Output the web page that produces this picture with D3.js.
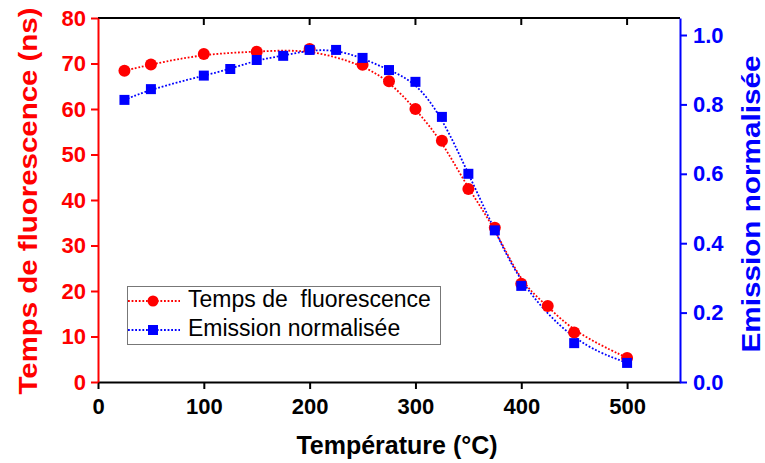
<!DOCTYPE html>
<html><head><meta charset="utf-8">
<script src="https://cdn.jsdelivr.net/npm/d3@7"></script>
<style>body{margin:0;background:#fff}svg{display:block}text{font-family:"Liberation Sans",Arial,sans-serif}</style>
</head><body>
<svg id="c" width="765" height="463"></svg>
<script>
const tempLife = [25,50,100,150,200,250,275,300,325,350,375,400,425,450,500];
const lifetime = [68.4,69.8,72.1,72.6,73.2,69.7,66.1,60.0,53.0,42.4,33.9,21.6,16.7,10.9,5.3];
const tempEm = [25,50,100,125,150,175,200,225,250,275,300,325,350,375,400,450,500];
const emission = [0.813,0.844,0.883,0.902,0.928,0.940,0.957,0.957,0.934,0.899,0.865,0.764,0.600,0.437,0.277,0.112,0.055];
const xTicks = [0,100,200,300,400,500];
const yLeftTicks = [0,10,20,30,40,50,60,70,80];
const yRightTicks = [0,0.2,0.4,0.6,0.8,1.0];
const legendLabels = ["Temps de  fluorescence","Emission normalisée"];

const svg = d3.select("#c");
const L=98,R=680,T=18,B=382;
const x = d3.scaleLinear().domain([0,550]).range([L,R]);
const yL = d3.scaleLinear().domain([0,80]).range([B,T]);
const yR = d3.scaleLinear().domain([0,1.049]).range([B,T]);
const RED="#ff0000", BLUE="#0000ff";

// top axis line with inward ticks
svg.append("line").attr("x1",L).attr("x2",R).attr("y1",T).attr("y2",T).attr("stroke","#000").attr("stroke-width",2);
svg.selectAll(".tt").data(xTicks.slice(1)).enter().append("line")
  .attr("x1",d=>x(d)).attr("x2",d=>x(d)).attr("y1",T).attr("y2",T+7).attr("stroke","#000").attr("stroke-width",2);

// bottom axis
const gx = svg.append("g").attr("transform",`translate(0,${B})`)
  .call(d3.axisBottom(x).tickValues(xTicks).tickSize(7).tickPadding(9).tickSizeOuter(0));
gx.select(".domain").attr("stroke","#000").attr("stroke-width",2);
gx.selectAll(".tick line").attr("stroke","#000").attr("stroke-width",2);
gx.selectAll("text").attr("fill","#000").style("font-size","22px").style("font-weight","bold");

// left axis
const gl = svg.append("g").attr("transform",`translate(${L},0)`)
  .call(d3.axisLeft(yL).tickValues(yLeftTicks).tickSize(7).tickPadding(5).tickSizeOuter(0));
gl.select(".domain").attr("stroke",RED).attr("stroke-width",2);
gl.selectAll(".tick line").attr("stroke",RED).attr("stroke-width",2);
gl.selectAll("text").attr("fill",RED).style("font-size","22px").style("font-weight","bold");

// right axis
const gr = svg.append("g").attr("transform",`translate(${R},0)`)
  .call(d3.axisRight(yR).tickValues(yRightTicks).tickFormat(d3.format(".1f")).tickSize(7).tickPadding(6).tickSizeOuter(0));
gr.select(".domain").attr("stroke",BLUE).attr("stroke-width",2);
gr.selectAll(".tick line").attr("stroke",BLUE).attr("stroke-width",2);
gr.selectAll("text").attr("fill",BLUE).style("font-size","22px").style("font-weight","bold");

// fit curves
const lineRed = d3.line().x((d,i)=>x(tempLife[i])).y(d=>yL(d)).curve(d3.curveBasis);
const lineBlue = d3.line().x((d,i)=>x(tempEm[i])).y(d=>yR(d)).curve(d3.curveBasis);
svg.append("path").attr("d",lineRed(lifetime)).attr("fill","none").attr("stroke",RED).attr("stroke-width",1.8).attr("stroke-dasharray","1.8,1.8");
svg.append("path").attr("d",lineBlue(emission)).attr("fill","none").attr("stroke",BLUE).attr("stroke-width",1.8).attr("stroke-dasharray","1.8,1.8");

// markers
svg.selectAll(".rc").data(lifetime).enter().append("circle")
  .attr("cx",(d,i)=>x(tempLife[i])).attr("cy",d=>yL(d)).attr("r",6).attr("fill",RED);
svg.selectAll(".bs").data(emission).enter().append("rect")
  .attr("x",(d,i)=>x(tempEm[i])-5).attr("y",d=>yR(d)-5).attr("width",10).attr("height",10).attr("fill",BLUE);

// legend
svg.append("rect").attr("x",127.5).attr("y",286.5).attr("width",313).attr("height",58).attr("fill","#fff").attr("stroke","#777").attr("stroke-width",1);
const lg = [{c:RED,y:301,ty:307},{c:BLUE,y:330,ty:336}];
lg.forEach((e,i)=>{
  svg.append("line").attr("x1",128).attr("x2",180).attr("y1",e.y).attr("y2",e.y).attr("stroke",e.c).attr("stroke-width",1.8).attr("stroke-dasharray","1.8,1.8");
  if(i===0) svg.append("circle").attr("cx",153).attr("cy",e.y).attr("r",5.5).attr("fill",RED);
  else svg.append("rect").attr("x",148).attr("y",e.y-5).attr("width",10).attr("height",10).attr("fill",BLUE);
  svg.append("text").attr("x",188).attr("y",e.ty).attr("fill","#000").style("font-size","23px").style("white-space","pre").attr("xml:space","preserve").text(legendLabels[i]);
});

// axis titles
svg.append("text").attr("x",397).attr("y",454).attr("text-anchor","middle").attr("fill","#000")
  .style("font-size","25px").style("font-weight","bold").text("Température (°C)");
svg.append("text").attr("transform","translate(37,201) rotate(-90)").attr("text-anchor","middle").attr("fill",RED)
  .attr("textLength",387).attr("lengthAdjust","spacingAndGlyphs")
  .style("font-size","26px").style("font-weight","bold").text("Temps de fluorescence (ns)");
svg.append("text").attr("transform","translate(760,204) rotate(-90)").attr("text-anchor","middle").attr("fill",BLUE)
  .attr("textLength",297).attr("lengthAdjust","spacingAndGlyphs")
  .style("font-size","26px").style("font-weight","bold").text("Emission normalisée");
</script>
</body></html>
